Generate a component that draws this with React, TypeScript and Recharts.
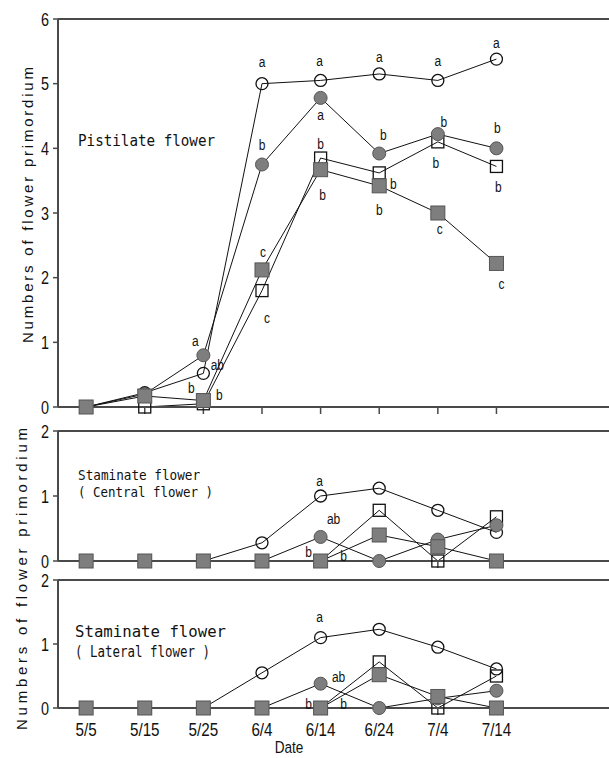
import React from 'react'
import { LineChart, Line, XAxis, YAxis, ReferenceLine } from 'recharts'

const dates = ['5/5', '5/15', '5/25', '6/4', '6/14', '6/24', '7/4', '7/14']

// Pistilate flower
const pistOpenCircle = [0, 0.22, 0.52, 5.0, 5.05, 5.15, 5.05, 5.38]
const pistFilledCircle = [0, 0.2, 0.8, 3.75, 4.78, 3.92, 4.22, 4.0]
const pistOpenSquare = [0, 0, 0.05, 1.8, 3.85, 3.62, 4.1, 3.72]
const pistFilledSquare = [0, 0.17, 0.1, 2.12, 3.67, 3.42, 3.0, 2.22]

const pistOpenCircleLetters = ['', '', 'ab', 'a', 'a', 'a', 'a', 'a']
const pistFilledCircleLetters = ['', '', 'a', 'b', 'a', 'b', 'b', 'b']
const pistOpenSquareLetters = ['', '', 'b', 'c', 'b', 'b', 'b', 'b']
const pistFilledSquareLetters = ['', '', 'b', 'c', 'b', 'b', 'c', 'c']

// Staminate flower (central)
const centOpenCircle = [0, 0, 0, 0.28, 1.0, 1.12, 0.78, 0.44]
const centFilledCircle = [0, 0, 0, 0, 0.37, 0, 0.33, 0.55]
const centOpenSquare = [0, 0, 0, 0, 0, 0.78, 0, 0.68]
const centFilledSquare = [0, 0, 0, 0, 0, 0.4, 0.22, 0]

const centOpenCircleLetters = ['', '', '', '', 'a', '', '', '']
const centFilledCircleLetters = ['', '', '', '', 'ab', '', '', '']
const centOpenSquareLetters = ['', '', '', '', 'b', '', '', '']
const centFilledSquareLetters = ['', '', '', '', 'b', '', '', '']

// Staminate flower (lateral)
const latOpenCircle = [0, 0, 0, 0.55, 1.1, 1.23, 0.95, 0.61]
const latFilledCircle = [0, 0, 0, 0, 0.38, 0, 0.15, 0.27]
const latOpenSquare = [0, 0, 0, 0, 0, 0.72, 0, 0.5]
const latFilledSquare = [0, 0, 0, 0, 0, 0.52, 0.18, 0]

const latOpenCircleLetters = ['', '', '', '', 'a', '', '', '']
const latFilledCircleLetters = ['', '', '', '', 'ab', '', '', '']
const latOpenSquareLetters = ['', '', '', '', 'b', '', '', '']
const latFilledSquareLetters = ['', '', '', '', 'b', '', '', '']

const pistTicks = [0, 1, 2, 3, 4, 5, 6]
const stamTicks = [0, 1, 2]

// label offsets (px) from the marker, keyed by point index
type Off = Record<number, [number, number]>
const OFFSETS: Record<string, Off> = {
  'p-oc': { 2: [14, -8], 3: [0, -22], 4: [-1, -19], 5: [0, -17], 6: [0, -19], 7: [0, -16] },
  'p-fc': { 2: [-8, -14], 3: [0, -19], 4: [0, 17], 5: [4, -18], 6: [6, -12], 7: [1, -20] },
  'p-os': { 2: [-12, -16], 3: [5, 27], 4: [0, -14], 5: [14, 11], 6: [-2, 21], 7: [2, 21] },
  'p-fs': { 2: [16, -6], 3: [1, -18], 4: [2, 25], 5: [0, 24], 6: [2, 16], 7: [5, 21] },
  'c-oc': { 4: [-1, -15] },
  'c-fc': { 4: [13, -18] },
  'c-os': { 4: [-12, -9] },
  'c-fs': { 4: [23, -5] },
  'l-oc': { 4: [-1, -21] },
  'l-fc': { 4: [18, -7] },
  'l-os': { 4: [-12, -4] },
  'l-fs': { 4: [23, -4] },
}

const GRAY = '#7e7e7e'
const EDGE = '#555'
const AXIS = '#4a4a4a'
const SANS = '"Liberation Sans", Arial, sans-serif'
const MONO = '"DejaVu Sans Mono", monospace'
const SQUEEZE = 0.8

type Shape = 'oc' | 'fc' | 'os' | 'fs'

function makeDot(shape: Shape, letters: string[], off: Off) {
  return (props: any) => {
    const { cx, cy, index } = props
    const letter = letters[index]
    const [dx, dy] = off[index] ?? [0, 0]
    let mark
    if (shape === 'oc') mark = <circle cx={cx} cy={cy} r={6} fill="none" stroke="#111" strokeWidth={1.3} />
    else if (shape === 'fc') mark = <circle cx={cx} cy={cy} r={6.5} fill={GRAY} stroke={EDGE} strokeWidth={1} />
    else if (shape === 'os') mark = <rect x={cx - 6} y={cy - 6} width={12} height={12} fill="none" stroke="#111" strokeWidth={1.3} />
    else mark = <rect x={cx - 7} y={cy - 7} width={14} height={14} fill={GRAY} stroke={EDGE} strokeWidth={1} />
    return (
      <g key={`dot-${shape}-${index}`}>
        {mark}
        {letter ? (
          <text
            transform={`translate(${cx + dx},${cy + dy}) scale(${SQUEEZE},1)`}
            textAnchor="middle"
            dominantBaseline="central"
            fontFamily={SANS}
            fontSize={15}
            fill="#111"
          >
            {letter}
          </text>
        ) : null}
      </g>
    )
  }
}

const YTick = (props: any) => {
  const { x, y, payload } = props
  return (
    <text transform={`translate(${x},${y}) scale(${SQUEEZE},1)`} textAnchor="end" dominantBaseline="central" fontFamily={SANS} fontSize={18} fill="#111">
      {payload.value}
    </text>
  )
}

const XTick = (props: any) => {
  const { x, y, payload, show } = props
  if (!show) return <g />
  return (
    <text transform={`translate(${x},${y}) scale(${SQUEEZE},1)`} textAnchor="middle" dy="0.71em" fontFamily={SANS} fontSize={19} fill="#111">
      {dates[payload.value]}
    </text>
  )
}

function buildRows(oc: number[], fc: number[], os: number[], fs: number[]) {
  return dates.map((d, i) => ({ x: i, date: d, oc: oc[i], fc: fc[i], os: os[i], fs: fs[i] }))
}

const pistData = buildRows(pistOpenCircle, pistFilledCircle, pistOpenSquare, pistFilledSquare)
const centData = buildRows(centOpenCircle, centFilledCircle, centOpenSquare, centFilledSquare)
const latData = buildRows(latOpenCircle, latFilledCircle, latOpenSquare, latFilledSquare)

const pistLetters = { oc: pistOpenCircleLetters, fc: pistFilledCircleLetters, os: pistOpenSquareLetters, fs: pistFilledSquareLetters }
const centLetters = { oc: centOpenCircleLetters, fc: centFilledCircleLetters, os: centOpenSquareLetters, fs: centFilledSquareLetters }
const latLetters = { oc: latOpenCircleLetters, fc: latFilledCircleLetters, os: latOpenSquareLetters, fs: latFilledSquareLetters }

const ORDER: Shape[] = ['oc', 'os', 'fc', 'fs']

interface PanelProps {
  id: string
  data: any[]
  letters: Record<Shape, string[]>
  yMax: number
  yTicks: number[]
  top: number
  height: number
  marginTop: number
  xHeight: number
  showDates?: boolean
}

function Panel({ id, data, letters, yMax, yTicks, top, height, marginTop, xHeight, showDates }: PanelProps) {
  return (
    <div style={{ position: 'absolute', left: 0, top }}>
      <LineChart width={609} height={height} data={data} margin={{ top: marginTop, right: 0, bottom: 0, left: 0 }}>
        <XAxis
          dataKey="x"
          type="number"
          domain={[-0.48, 8.92]}
          ticks={[0, 1, 2, 3, 4, 5, 6, 7]}
          interval={0}
          allowDataOverflow
          height={xHeight}
          tickSize={7}
          tickMargin={8}
          axisLine={{ stroke: AXIS, strokeWidth: 2 }}
          tickLine={{ stroke: AXIS, strokeWidth: 1.5 }}
          tick={<XTick show={!!showDates} />}
        />
        <YAxis
          type="number"
          domain={[0, yMax]}
          ticks={yTicks}
          width={58}
          tickSize={5}
          tickMargin={4}
          axisLine={{ stroke: AXIS, strokeWidth: 2 }}
          tickLine={{ stroke: AXIS, strokeWidth: 1.5 }}
          tick={<YTick />}
        />
        <ReferenceLine y={yMax} stroke={AXIS} strokeWidth={2} />
        {ORDER.map((s) => (
          <Line
            key={s}
            dataKey={s}
            stroke="#111"
            strokeWidth={1}
            isAnimationActive={false}
            activeDot={false}
            dot={makeDot(s, letters[s], OFFSETS[`${id}-${s}`])}
          />
        ))}
      </LineChart>
    </div>
  )
}

export default function App() {
  return (
    <div style={{ position: 'absolute', left: 0, top: 0, width: 609, height: 758, background: '#fff', overflow: 'hidden' }}>
      <Panel id="p" data={pistData} letters={pistLetters} yMax={6} yTicks={pistTicks} top={0} height={425} marginTop={19} xHeight={18} />
      <Panel id="c" data={centData} letters={centLetters} yMax={2} yTicks={stamTicks} top={420} height={160} marginTop={11} xHeight={19} />
      <Panel id="l" data={latData} letters={latLetters} yMax={2} yTicks={stamTicks} top={570} height={188} marginTop={10} xHeight={50} showDates />
      <svg width={609} height={758} style={{ position: 'absolute', left: 0, top: 0, pointerEvents: 'none' }}>
        <g fontFamily={MONO} fill="#111">
          <text x={78} y={140} fontSize={16} dominantBaseline="central" textLength={137} lengthAdjust="spacingAndGlyphs">Pistilate flower</text>
          <text x={78} y={475} fontSize={14} dominantBaseline="central" textLength={122} lengthAdjust="spacingAndGlyphs">Staminate flower</text>
          <text x={78} y={492} fontSize={14} dominantBaseline="central" textLength={135} lengthAdjust="spacingAndGlyphs">( Central flower )</text>
          <text x={75} y={631} fontSize={16} dominantBaseline="central" textLength={151} lengthAdjust="spacingAndGlyphs">Staminate flower</text>
          <text x={75} y={652} fontSize={15} dominantBaseline="central" textLength={135} lengthAdjust="spacingAndGlyphs">( Lateral flower )</text>
        </g>
        <g fontFamily={SANS} fill="#111">
          <text transform={`translate(289,747) scale(${SQUEEZE},1)`} textAnchor="middle" dominantBaseline="central" fontSize={17}>Date</text>
          <text transform="translate(27,205) rotate(-90)" textAnchor="middle" dominantBaseline="central" fontSize={15} textLength={276} lengthAdjust="spacing">
            Numbers of flower primordium
          </text>
          <text transform="translate(21,579) rotate(-90)" textAnchor="middle" dominantBaseline="central" fontSize={15} textLength={302} lengthAdjust="spacing">
            Numbers of flower primordium
          </text>
        </g>
      </svg>
    </div>
  )
}
